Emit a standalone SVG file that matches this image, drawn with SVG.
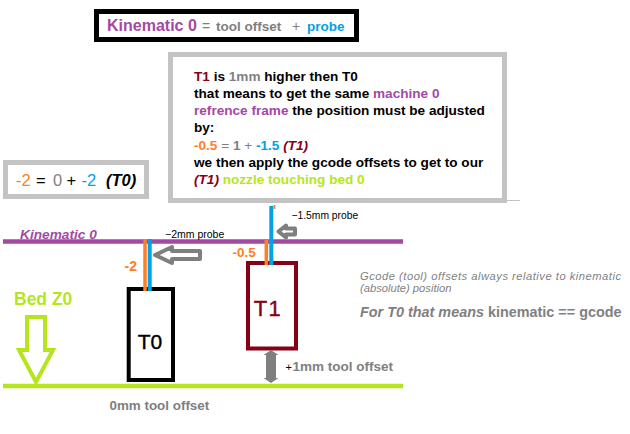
<svg xmlns="http://www.w3.org/2000/svg" width="630" height="434" viewBox="0 0 630 434">
<style>
text{font-family:"Liberation Sans",Arial,sans-serif}
.b{font-weight:bold}
.i{font-style:italic}
.pu{fill:#a349a4}
.or{fill:#ff7f27}
.bl{fill:#00a2e8}
.dr{fill:#880015}
.gr{fill:#7f7f7f}
.gn{fill:#b5e61d}
.k{fill:#000}
.hollow{fill:#fff;stroke:#7f7f7f;stroke-width:4;stroke-linejoin:round}
</style>
<rect width="630" height="434" fill="#fff"/>

<g id="title">
<rect x="96.5" y="11.5" width="260" height="28" fill="#fff" stroke="#000" stroke-width="5"/>
<text y="31" font-size="16"><tspan x="107" class="b pu">Kinematic 0</tspan><tspan x="202" class="gr" font-size="14">=</tspan><tspan x="216" class="b gr" font-size="13.5">tool offset</tspan><tspan x="292" class="gr" font-size="14">+</tspan><tspan x="307" class="b bl" font-size="13.5">probe</tspan></text>
</g>

<g id="note">
<rect x="170.5" y="54.5" width="334" height="146" fill="#fff" stroke="#c3c3c3" stroke-width="5"/>
<line x1="505" y1="200.5" x2="520" y2="200.5" stroke="#c3c3c3" stroke-width="1"/>
<g font-size="13.6" class="b">
<text x="194" y="80.5"><tspan class="dr">T1</tspan><tspan class="k"> is </tspan><tspan class="gr">1mm</tspan><tspan class="k"> higher then T0</tspan></text>
<text x="194" y="97.5"><tspan class="k">that means to get the same </tspan><tspan class="pu">machine 0</tspan></text>
<text x="194" y="115"><tspan class="pu">refrence frame</tspan><tspan class="k"> the position must be adjusted</tspan></text>
<text x="194" y="132" class="k">by:</text>
<text x="194" y="149.5"><tspan class="or">-0.5</tspan><tspan class="gr" font-weight="normal"> = </tspan><tspan class="gr"> 1</tspan><tspan class="gr" font-weight="normal"> + </tspan><tspan class="bl">-1.5</tspan><tspan class="dr i"> (T1)</tspan></text>
<text x="194" y="167" class="k">we then apply the gcode offsets to get to our</text>
<text x="194" y="184"><tspan class="dr i">(T1)</tspan><tspan class="gn"> nozzle touching bed 0</tspan></text>
</g>
</g>

<g id="equation-t0">
<rect x="5.5" y="162.5" width="141" height="34" fill="#fff" stroke="#c3c3c3" stroke-width="5"/>
<text y="185.5" font-size="16.5"><tspan x="16" class="or">-2</tspan><tspan x="36" class="k">=</tspan><tspan x="53" class="gr">0</tspan><tspan x="66.5" class="k">+</tspan><tspan x="81.5" class="bl">-2</tspan><tspan x="106" class="b i k">(T0)</tspan></text>
</g>

<g id="kinematic-line">
<line x1="3" y1="241.5" x2="403" y2="241.5" stroke="#a349a4" stroke-width="4.5"/>
<text x="20" y="238.5" font-size="13.7" class="b i pu">Kinematic 0</text>
</g>

<g id="bed-line">
<line x1="3" y1="386" x2="403" y2="386" stroke="#b5e61d" stroke-width="4.5"/>
<text x="14" y="305" font-size="17.5" class="b gn">Bed Z0</text>
</g>

<g id="T0">
<rect x="128.7" y="289" width="44.3" height="91" fill="#fff" stroke="#000" stroke-width="4"/>
<text x="150" y="348.5" font-size="21" text-anchor="middle" class="k" stroke="#000" stroke-width="0.4">T0</text>
<line x1="145" y1="239" x2="145" y2="291" stroke="#ff7f27" stroke-width="3.5"/>
<line x1="149.7" y1="239" x2="149.7" y2="291" stroke="#00a2e8" stroke-width="4"/>
<text x="124.5" y="270.5" font-size="14" class="b or">-2</text>
<text x="165" y="238" font-size="10.5" class="k">−2mm probe</text>
<text x="109.5" y="409.5" font-size="13.4" class="b gr">0mm tool offset</text>
</g>

<g id="T1">
<rect x="248" y="263" width="48" height="85.5" fill="#fff" stroke="#880015" stroke-width="4"/>
<text x="268" y="315.5" font-size="22" text-anchor="middle" class="dr" letter-spacing="1.5" stroke="#880015" stroke-width="0.4">T1</text>
<line x1="266.3" y1="240" x2="266.3" y2="265" stroke="#ff7f27" stroke-width="3.5"/>
<line x1="271.3" y1="206" x2="271.3" y2="265" stroke="#00a2e8" stroke-width="4"/>
<rect x="273.5" y="205" width="1.8" height="4" fill="#ff7f27"/>
<text x="232.5" y="257" font-size="13.5" class="b or">-0.5</text>
<text x="291.5" y="219" font-size="10.3" class="k">−1.5mm probe</text>
<text y="371" font-size="13.5"><tspan x="285.5" class="k" font-size="11">+</tspan><tspan x="292.5" class="b gr">1mm tool offset</tspan></text>
</g>

<g id="note-gcode">
<text x="360" y="280" font-size="11.2" class="i gr" textLength="261" lengthAdjust="spacing">Gcode (tool) offsets always relative to kinematic</text>
<text x="360" y="292" font-size="11.2" class="i gr">(absolute) position</text>
<text x="360" y="317" font-size="14.4" class="b gr"><tspan class="i">For T0 that means</tspan> kinematic == gcode</text>
</g>

<g id="connectors">
<polygon class="hollow" points="155,255 172,247 172,251 200,251 200,259 172,259 172,263"/>
<polygon class="hollow" points="278.5,231.5 286,225.5 286,228.5 295,228.5 295,234.5 286,234.5 286,237.5"/>
<polygon fill="#7f7f7f" points="271,350 278.5,355 276,355 276,378 278.5,378 271,383 263.5,378 266,378 266,355 263.5,355"/>
<polygon fill="#fff" stroke="#b5e61d" stroke-width="4" stroke-linejoin="miter" points="27,317 45,317 45,350 53,350 36,382 19,350 27,350"/>
</g>
</svg>
